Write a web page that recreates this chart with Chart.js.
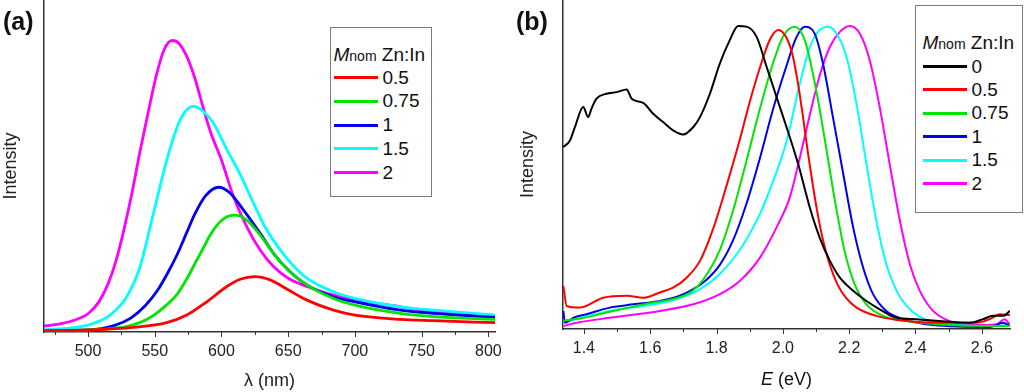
<!DOCTYPE html>
<html>
<head>
<meta charset="utf-8">
<script src="https://cdn.jsdelivr.net/npm/chart.js@4.4.0/dist/chart.umd.min.js"></script>
<style>
body{margin:0;background:#fff;font-family:"Liberation Sans",Arial,sans-serif;color:#111;}
#wrap{position:relative;width:1024px;height:392px;overflow:hidden;}
.pane{position:absolute;top:0;width:512px;height:392px;}
.tag{position:absolute;top:8px;font-weight:bold;font-size:25px;line-height:26px;}
.leg{position:absolute;border:1.5px solid #7a7a7a;background:#fff;box-sizing:border-box;font-size:19px;}
.leg .row{position:absolute;left:0;white-space:nowrap;height:24px;display:flex;align-items:center;}
.leg .sw{display:inline-block;width:44px;height:3px;margin-right:5px;}
.xt{position:absolute;font-size:18px;line-height:22px;text-align:center;}
</style>
</head>
<body>
<div id="wrap">
 <div class="pane" style="left:0"><canvas id="cA" width="512" height="392"></canvas></div>
 <div class="pane" style="left:512px"><canvas id="cB" width="512" height="392"></canvas></div>
 <div class="tag" style="left:3px">(a)</div>
 <div class="tag" style="left:516px">(b)</div>
 <div class="xt" style="left:563px;width:447px;top:368px"><i>E</i> (eV)</div>
 <div class="leg" id="legA" style="left:330px;top:27px;width:102px;height:170px"></div>
 <div class="leg" id="legB" style="left:915px;top:5px;width:108px;height:208px"></div>
</div>
<script>
// (a) emission spectra, wavelength (nm) vs intensity (a.u.)
const a_05=[[467,0.3],[500,0.6],[534,1.4],[559,2.8],[574,5.1],[589,9.1],[604,13.7],[614,15.9],[625,16.7],[636.5,15.7],[650,12.7],[664,9.6],[684,6.6],[700,5.1],[734,3.8],[759,3.4],[805,2.8]];
const a_075=[[467,0.3],[500,0.6],[530,1.8],[545,4],[557,7.5],[567,11.5],[574,16],[580,20.5],[586,25],[592,29.5],[598,32.8],[604,34.7],[610,35.2],[618,34],[629,29.2],[639,23.7],[650,18.7],[664,14.2],[684,10.1],[700,8.1],[734,5.6],[759,4.6],[805,3.8]];
const a_1=[[467,0.4],[500,0.6],[520,2],[532,4.2],[543,8],[552,12.5],[560,18],[567,23.5],[574,30],[580,35.5],[588,41],[598,43.6],[606,42],[616,37],[629,29.7],[639,23.7],[650,18.7],[664,14.2],[684,10.6],[700,9.1],[734,6.6],[759,5.6],[805,4.4]];
const a_15=[[467,0.6],[500,2.1],[516.5,5.1],[529,10.6],[539,19.7],[549,35.7],[559,51.8],[569,63.9],[579,68],[586.5,66.4],[594,62.9],[604,55],[614,47.5],[624,38.8],[634,30.7],[650,21.7],[664,16.2],[684,12.1],[700,10.1],[734,7.6],[759,6.6],[805,5.1]];
const a_2=[[467,1.8],[480,2.5],[490,3.6],[500,5.5],[508,9],[515,14.5],[521,21.5],[527,31],[533,42],[539,54.5],[545,66],[551,77],[557,85],[563,87.8],[568,87],[574,83],[580,76.5],[586,68],[592,60],[600,51.8],[609,40.8],[619,31.7],[629,24.7],[639,19.7],[650,16.2],[664,13.7],[684,11.1],[700,9.6],[734,7.6],[750,6.6],[784,5.4],[805,4.8]];

// (b) same spectra on energy axis (eV), normalised
const b_0=[[1.338,55.3],[1.358,57.3],[1.373,61.4],[1.398,67.5],[1.413,64.4],[1.423,67.0],[1.438,70.0],[1.468,71.5],[1.499,72.0],[1.529,72.8],[1.544,70.0],[1.579,68.7],[1.609,65.4],[1.639,62.9],[1.669,60.4],[1.699,59.1],[1.730,61.4],[1.750,64.4],[1.780,71.5],[1.810,80.7],[1.840,87.8],[1.865,92.1],[1.890,91.9],[1.921,88.8],[1.951,79.7],[1.981,70.5],[2.011,61.4],[2.046,50.2],[2.081,37.0],[2.111,27.8],[2.142,20.7],[2.172,15.6],[2.212,11.6],[2.252,8.5],[2.292,6.0],[2.343,3.4],[2.403,3.0],[2.473,2.4],[2.564,1.9],[2.604,3.0],[2.634,4.0],[2.664,4.0],[2.685,5.5]];
const b_05=[[1.338,13.1],[1.348,7.0],[1.388,6.5],[1.458,9.5],[1.529,10.1],[1.579,9.5],[1.629,11.1],[1.669,12.6],[1.710,15.6],[1.750,20.7],[1.790,30.5],[1.830,43.5],[1.870,57.5],[1.900,69],[1.931,79.5],[1.961,88],[1.986,90.9],[2.011,88.5],[2.030,83],[2.045,75],[2.060,65],[2.075,54],[2.090,44],[2.105,35],[2.120,27.5],[2.140,20],[2.165,13.5],[2.190,9.5],[2.222,6.5],[2.282,4.0],[2.373,2.4],[2.473,1.9],[2.584,1.9],[2.624,3.0],[2.654,4.5],[2.685,4.2]];
const b_075=[[1.338,2.5],[1.400,3.4],[1.485,5.4],[1.586,7.6],[1.686,9.6],[1.730,11.8],[1.770,16.5],[1.810,24],[1.850,36],[1.890,51],[1.931,67],[1.971,81],[2.001,89],[2.036,91.9],[2.066,87.8],[2.096,75],[2.127,57.3],[2.157,39],[2.187,23.3],[2.217,13.5],[2.252,7.5],[2.302,4.0],[2.373,2.4],[2.473,1.4],[2.624,0.9],[2.685,0.9]];
const b_1=[[1.338,5.5],[1.343,1.9],[1.368,3.4],[1.408,4.5],[1.478,6.5],[1.549,7.5],[1.629,8.5],[1.689,10.1],[1.730,12.1],[1.770,15],[1.810,19.5],[1.850,27],[1.890,38],[1.931,52],[1.971,67],[2.011,80],[2.040,88.5],[2.066,91.9],[2.096,89.8],[2.121,80.7],[2.151,64.4],[2.182,47.2],[2.212,30.9],[2.242,18.7],[2.272,10.6],[2.312,5.5],[2.363,3.0],[2.453,1.2],[2.624,0.6],[2.664,1.9],[2.685,0.9]];
const b_15=[[1.338,1.9],[1.378,3.0],[1.478,5.5],[1.579,7.0],[1.679,9.0],[1.750,12.1],[1.810,16.7],[1.870,24],[1.931,35],[1.971,45],[2.011,57],[2.050,74],[2.081,85.5],[2.111,90.9],[2.137,91.9],[2.162,89.8],[2.192,82.7],[2.222,68.5],[2.252,50.2],[2.282,32.9],[2.312,19.7],[2.343,11.6],[2.383,6.0],[2.443,2.4],[2.524,1.2],[2.624,0.9],[2.685,1.2]];
const b_2=[[1.338,0.9],[1.378,1.9],[1.478,3.4],[1.629,5.5],[1.730,7.5],[1.810,10.6],[1.870,14.6],[1.931,21.7],[1.981,30.9],[2.021,40.0],[2.051,52],[2.081,65],[2.111,77],[2.142,85.8],[2.172,90.3],[2.202,92.1],[2.232,89.8],[2.262,81.7],[2.292,67.5],[2.322,50.2],[2.353,32.9],[2.383,19.7],[2.413,11.6],[2.453,5.5],[2.503,2.4],[2.574,1.2],[2.644,1.4],[2.669,3.0],[2.685,1.2]];

const labelsA=['0.5','0.75','1','1.5','2'];
const labelsB=['0','0.5','0.75','1','1.5','2'];
const COL={'0':'#000000','0.5':'#ff0000','0.75':'#00e600','1':'#0000ee','1.5':'#00ffff','2':'#ff00ff'};

const FONT='"Liberation Sans", Arial, sans-serif';
Chart.defaults.font.family=FONT;
Chart.defaults.color='#222';

// x tick marks: long under labelled values, short in between
const tickMarks={
 id:'tickMarks',
 afterDraw(chart){
  const sc=chart.scales.x, ctx=chart.ctx;
  ctx.save();
  ctx.strokeStyle='#333'; ctx.lineWidth=1;
  sc.ticks.forEach(t=>{
   const px=Math.round(sc.getPixelForValue(t.value))+0.5;
   const len=t.label!==''?5:3;
   ctx.beginPath(); ctx.moveTo(px,sc.top); ctx.lineTo(px,sc.top+len); ctx.stroke();
  });
  ctx.restore();
 }
};

function mkSet(lab,pts,w){
 return {label:lab,data:pts.map(p=>({x:p[0],y:p[1]})),borderColor:COL[lab],borderWidth:w,
  pointRadius:0,fill:false,cubicInterpolationMode:'monotone'};
}

function mkChart(id,sets,o){
 return new Chart(document.getElementById(id),{
  type:'line',
  data:{datasets:sets},
  options:{
   responsive:false,animation:false,devicePixelRatio:1,
   layout:{padding:{left:o.padL,right:o.padR,top:0,bottom:0}},
   plugins:{legend:{display:false},tooltip:{enabled:false}},
   scales:{
    x:{type:'linear',min:o.min,max:o.max,
     grid:{display:false,drawTicks:false},
     border:{display:true,color:'#333',width:1.5},
     ticks:{stepSize:o.step,includeBounds:false,autoSkip:false,maxRotation:0,padding:9.7,color:'#222',font:{size:16},callback:o.fmt},
     title:{display:!!o.xTitle,text:o.xTitle||'',color:'#222',font:{size:18},padding:{top:0,bottom:o.xTitlePad}},
     afterFit:s=>{s.height=o.xH;}},
    y:{min:0,max:100,
     grid:{display:false,drawTicks:false},
     border:{display:true,color:'#333',width:1.5},
     ticks:{display:false},
     title:{display:true,text:'Intensity',color:'#222',font:{size:18},padding:{top:0,bottom:0}},
     afterFit:s=>{s.width=o.yW;}}
   }
  },
  plugins:[tickMarks]
 });
}

const chartA=mkChart('cA',[
 mkSet('0.5',a_05,2.8),mkSet('0.75',a_075,2.8),mkSet('1',a_1,2.8),mkSet('1.5',a_15,2.8),mkSet('2',a_2,2.8)
],{min:467,max:805,step:25,fmt:v=>v%50===0?String(v):'',xTitle:'λ (nm)',xTitlePad:0.2,xH:60,yW:44,padL:0,padR:17});

const chartB=mkChart('cB',[
 mkSet('0',b_0,2),mkSet('0.5',b_05,2),mkSet('0.75',b_075,2),mkSet('1',b_1,2),mkSet('1.5',b_15,2),mkSet('2',b_2,2)
],{min:1.337,max:2.685,step:0.1,fmt:v=>Math.round(v*10)%2===0?v.toFixed(1):'',xTitle:'',xTitlePad:0,xH:63,yW:46,padL:5,padR:14});

function buildLegend(el,chart,padX,titleY,firstY,stepY){
 const t=document.createElement('div');
 t.className='row';
 t.style.left=padX+'px';
 t.style.top=(titleY-12)+'px';
 t.innerHTML='<i>M</i><span style="font-size:14px;margin-top:3px">nom</span>&nbsp;Zn:In';
 el.appendChild(t);
 chart.data.datasets.forEach((d,i)=>{
  const r=document.createElement('div');
  r.className='row';
  r.style.left=padX+'px';
  r.style.top=(firstY+i*stepY-12)+'px';
  const sw=document.createElement('span');
  sw.className='sw'; sw.style.background=d.borderColor;
  const tx=document.createElement('span');
  tx.textContent=d.label;
  r.appendChild(sw); r.appendChild(tx);
  el.appendChild(r);
 });
}
buildLegend(document.getElementById('legA'),chartA,2.5,26.5,49.5,23.75);
buildLegend(document.getElementById('legB'),chartB,6.5,36.5,60.5,23.4);
</script>
</body>
</html>
